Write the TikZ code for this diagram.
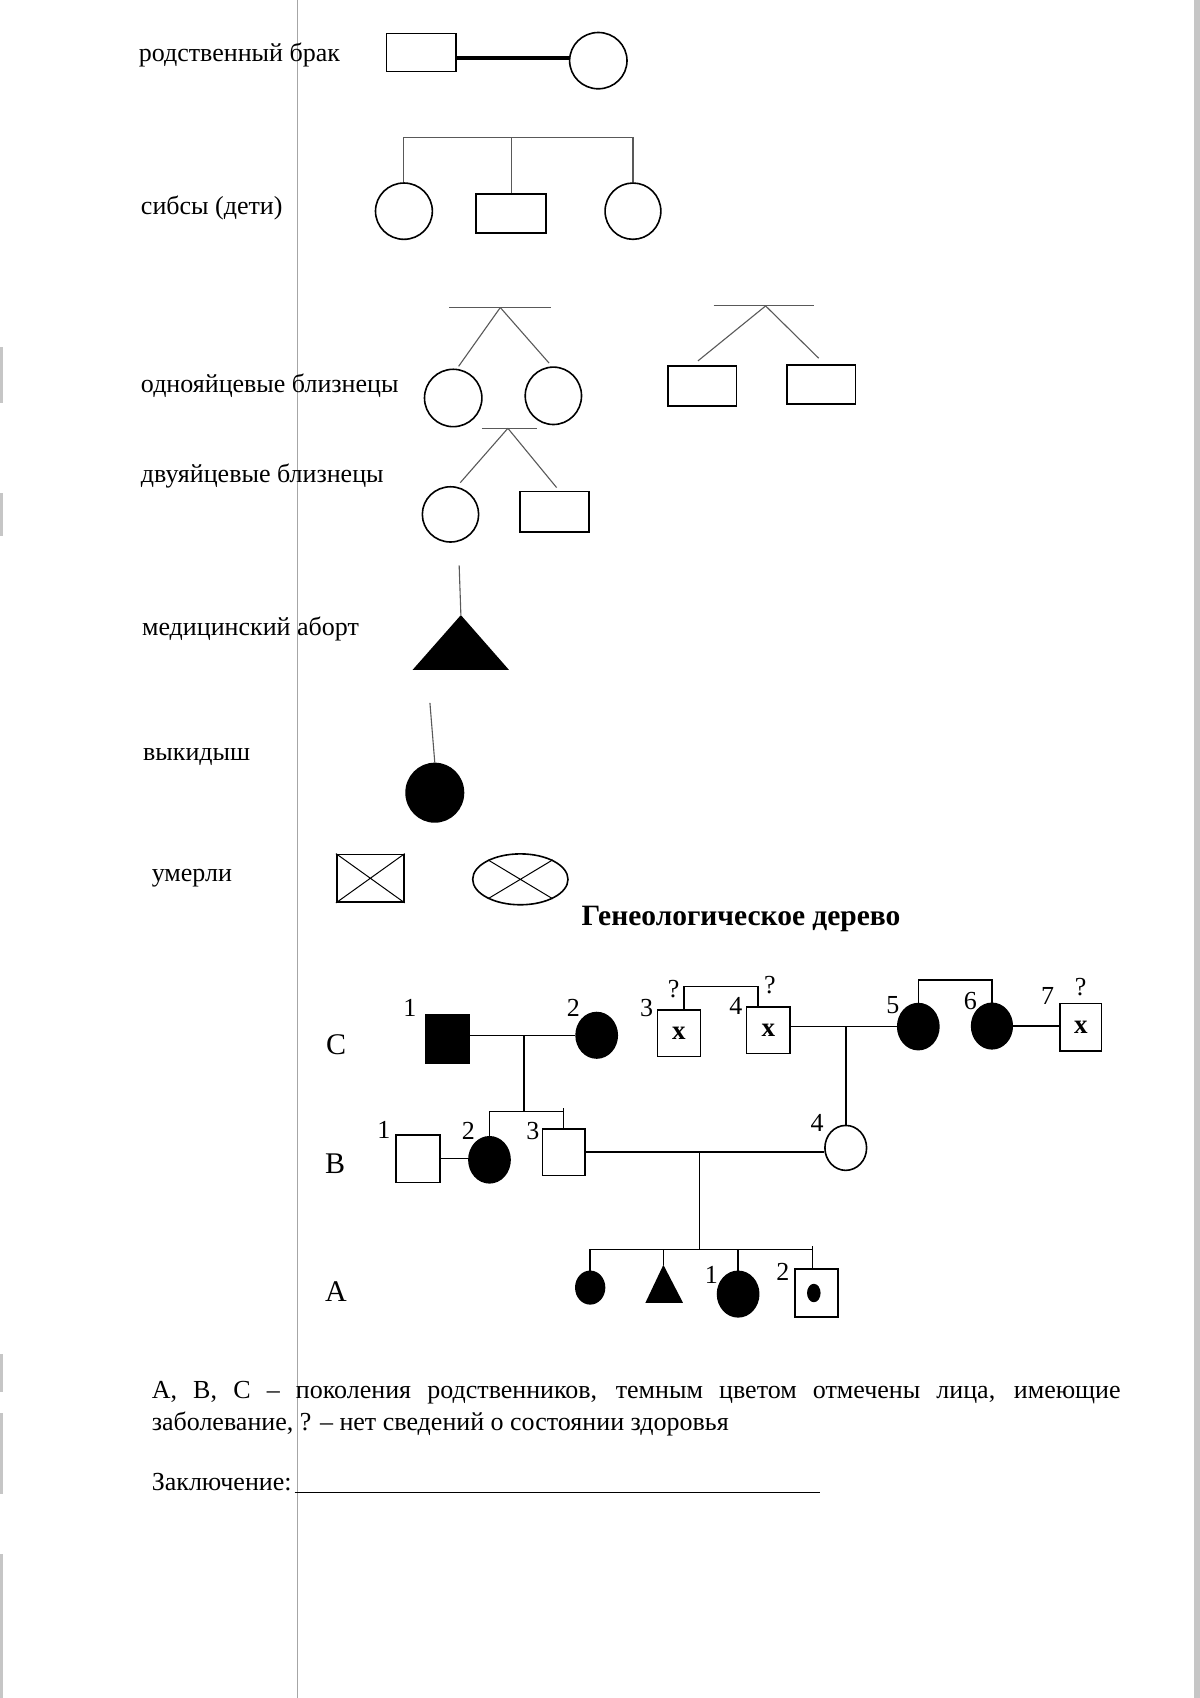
\documentclass[tikz,border=0pt]{standalone}
\usepackage{fontspec}
\setmainfont{Liberation Serif}
\usetikzlibrary{shapes.geometric,calc}
\begin{document}
\begin{tikzpicture}[x=1.08303pt, y=-1.08303pt,
  sq/.style 2 args={rectangle, draw, line width=1.6pt, minimum width=#1*1.08303pt, minimum height=#2*1.08303pt, inner sep=0pt},
  ov/.style 2 args={ellipse, draw, line width=1.6pt, minimum width=#1*1.08303pt, minimum height=#2*1.08303pt, inner sep=0pt},
  aff/.style={fill=black},
  lg/.style={line width=1.1pt, draw=black!65},
  ped/.style={line width=1.5pt},
  lbl/.style={anchor=base west, inner sep=0pt, font=\fontsize{26}{26}\selectfont},
  num/.style={anchor=base, inner sep=0pt, font=\fontsize{26}{26}\selectfont},
  gen/.style={anchor=base west, inner sep=0pt, font=\fontsize{30}{30}\selectfont},
  xm/.style={font=\fontsize{27}{27}\selectfont\bfseries},
]
\useasboundingbox (0,0) rectangle (1108,1568);
\fill[white] (0,0) rectangle (1108,1568);
% page edges
\fill[gray!45] (1103,0) rectangle (1108,1568);
\foreach \a/\b in {320/372,455/495,1250/1285,1305/1380,1435/1568}
  \fill[gray!45] (0,\a) rectangle (2.5,\b);
\draw[gray!70, line width=1.3pt] (274.7,0) -- (274.7,1568);

% ---------- legend ----------
\node[lbl] (t1txt) at (128,57) {родственный брак};
\node[sq={64}{35}] (r1) at (389,48.5) {};
\node[ov={53}{52}] (c1) at (552.5,56) {};
\path ($(r1.east)+(0,5)$) coordinate (m0);
\draw[line width=3.5pt] (m0) -- (m0 -| c1.west);

\node[lbl] (t2txt) at (130,198) {сибсы (дети)};
\node[ov={52.5}{52}] (s1) at (373,195) {};
\node[sq={64.5}{36}] (s2) at (472,197) {};
\node[ov={51.5}{52}] (s3) at (584.5,195) {};
\coordinate (sb) at (0,126.8);
\draw[lg] (s1.north) -- (s1.north |- sb) -- (s3.north |- sb) -- (s3.north);
\draw[lg] (s2.north) -- (s2.north |- sb);

\node[lbl] (t3txt) at (130,362) {однояйцевые близнецы};
\node[ov={53}{53}] (i1) at (418.5,367.5) {};
\node[ov={52}{53}] (i2) at (511,365.5) {};
\coordinate (ibl) at (415,284); \coordinate (ibr) at (509,284); \coordinate (iap) at (462,284);
\draw[lg] (ibl) -- (ibr);
\draw[lg] (iap) -- ($(i1.north)+(5,-2)$);
\draw[lg] (iap) -- ($(i2.north)+(-4,-3)$);

\node[sq={63}{37}] (m1) at (648.5,356.5) {};
\node[sq={63}{36}] (m2) at (758.5,355) {};
\coordinate (mbl) at (659,282.5); \coordinate (mbr) at (752,282.5); \coordinate (map) at (707,282.5);
\draw[lg] (mbl) -- (mbr);
\draw[lg] (map) -- ($(m1.north)+(-4,-4)$);
\draw[lg] (map) -- ($(m2.north)+(-2.5,-5.5)$);

\node[lbl] (t4txt) at (130,446) {двуяйцевые близнецы};
\node[ov={52}{51}] (z1) at (416,475) {};
\node[sq={64}{37}] (z2) at (512,472.5) {};
\coordinate (zbl) at (445,395.5); \coordinate (zbr) at (496,395.5); \coordinate (zap) at (469,395.5);
\draw[lg] (zbl) -- (zbr);
\draw[lg] (zap) -- ($(z1.north)+(9,-3)$);
\draw[lg] (zap) -- ($(z2.north)+(2,-3)$);

\node[lbl] (t5txt) at (131,587) {медицинский аборт};
\coordinate (ab0) at (424,522);
\coordinate (ab) at (425.6,568);
\fill (ab) -- (381,618.6) -- (470,618.6) -- cycle;
\draw[lg] (ab0) -- (ab);

\node[lbl] (t6txt) at (132,702) {выкидыш};
\node[ov={53}{54}, fill=black] (mc) at (401.5,732) {};
\coordinate (mc0) at (397,649);
\draw[lg] (mc0) -- (mc.north);

\node[lbl] (t7txt) at (140,814) {умерли};
\node[sq={62}{44}] (d1) at (342,811) {};
\draw[line width=1pt] (d1.north west) -- (d1.south east) (d1.south west) -- (d1.north east);
\node[ov={88}{47}] (d2) at (480.5,812) {};
\draw[line width=1pt] (d2.31) -- (d2.211) (d2.149) -- (d2.329);

% ---------- pedigree ----------
\node[anchor=base west, inner sep=0pt, font=\fontsize{29.5}{29.5}\selectfont\bfseries] (title) at (537,855) {Генеологическое дерево};

\node[gen] (gC) at (301,974) {C};
\node[gen] (gB) at (300,1084) {B};
\node[gen] (gA) at (300,1202) {A};

\node[sq={40}{45}, aff] (C1) at (413,959.5) {};
\node[ov={38}{42}, aff] (C2) at (551,956) {};
\node[sq={40}{43}, xm] (C3) at (627,954) {x};
\node[sq={40}{43}, xm] (C4) at (709.5,951.5) {x};
\node[ov={38}{42.5}, aff] (C5) at (848,948) {};
\node[ov={37.5}{42}, aff] (C6) at (916,947.5) {};
\node[sq={38.5}{44}, xm] (C7) at (998,948.5) {x};

\node[sq={40.6}{44}] (B1) at (386,1070) {};
\node[ov={38}{42.5}, aff] (B2) at (452,1071) {};
\node[sq={39}{43}] (B3) at (520.5,1064) {};
\node[ov={38.5}{41.5}] (B4) at (781,1060) {};

\node[ov={26.5}{30}, aff] (A0) at (545,1189) {};
\coordinate (At) at (612.6,1168);
\fill (At) -- (596,1203) -- (630.7,1203) -- cycle;
\node[ov={38}{42}, aff] (A1) at (681.6,1195) {};
\node[sq={40}{44}] (A2) at (754,1194) {};
\node[ov={11}{15.5}, aff] (A2d) at (751.5,1194) {};

% numbers
\node[num] at (378.5,939) {1};
\node[num] at (529.5,939) {2};
\node[num] at (597,939) {3};
\node[num] at (622,921) {?};
\node[num] at (679.5,937) {4};
\node[num] at (711,917) {?};
\node[num] at (824.5,935.5) {5};
\node[num] at (896,932.5) {6};
\node[num] at (967.5,928) {7};
\node[num] at (998,919) {?};
\node[num] at (354.5,1051) {1};
\node[num] at (432.5,1052.6) {2};
\node[num] at (492,1052.6) {3};
\node[num] at (754.5,1045) {4};
\node[num] at (657,1185) {1};
\node[num] at (723,1182) {2};

% connectors
\draw[ped] (C1.east |- C2.west) -- (C2.west);
\coordinate (cm1) at (484,956);
\coordinate (bb) at (0,1026.5);
\draw[ped] (cm1) -- (cm1 |- bb);
\draw[ped] (B2.north) -- (B2.north |- bb) -- (B3.north |- bb) -- ++(0,-3);
\draw[ped] (B3.north) -- (B3.north |- bb);

\coordinate (c34) at (0,911);
\path ($(C3.north)+(4.5,0)$) coordinate (c3t);
\path ($(C4.north)+(-9.5,0)$) coordinate (c4t);
\draw[ped] (c3t) -- (c3t |- c34) -- (c4t |- c34) -- (c4t);
\draw[ped] (C4.east |- C5.west) -- (C5.west);
\coordinate (cm2) at (781,948);
\draw[ped] (cm2) -- (B4.north);

\coordinate (c56) at (0,905);
\draw[ped] (C5.north) -- (C5.north |- c56) -- (C6.north |- c56) -- (C6.north);
\draw[ped] (C6.east) -- (C6.east -| C7.west);

\draw[ped] (B1.east) -- (B1.east -| B2.west);
\draw[ped] (B3.east) -- (B3.east -| B4.west);
\coordinate (bm) at (646,1063.5);
\coordinate (ab1) at (0,1154);
\path ($(A2.north)+(-3.6,0)$) coordinate (a2t);
\draw[ped] (bm) -- (bm |- ab1);
\draw[ped] (A0.north) -- (A0.north |- ab1) -- (a2t |- ab1) -- ++(0,-3);
\draw[ped] (At) -- (At |- ab1);
\draw[ped] (A1.north) -- (A1.north |- ab1);
\draw[ped] (a2t) -- (a2t |- ab1);

% ---------- text ----------
\node[lbl] (p1) at (140,1291) {\makebox[969pt][s]{А, В, С – поколения родственников, темным цветом отмечены лица, имеющие}};
\node[lbl] (p2) at (140,1321) {заболевание, ? – нет сведений о состоянии здоровья};
\node[lbl] (concl) at (140,1376) {Заключение:};
\coordinate (ul1) at (272,1378);
\coordinate (ul2) at (757,1378);
\draw[line width=1.4pt] (ul1) -- (ul2);
\end{tikzpicture}
\end{document}
